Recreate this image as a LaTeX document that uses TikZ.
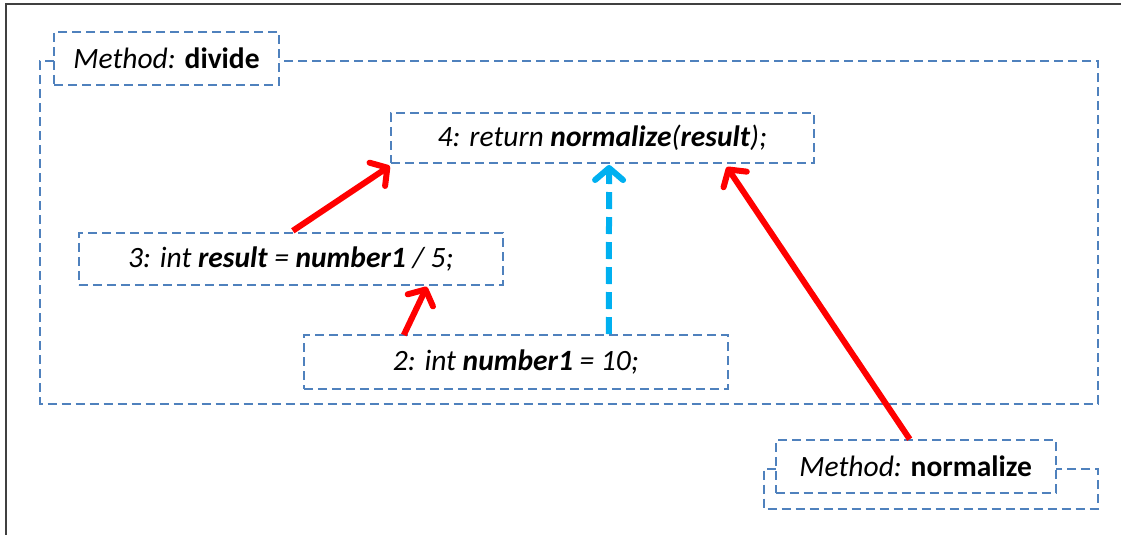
\documentclass[tikz,border=0pt]{standalone}
\usepackage{fontspec}
\setmainfont{Carlito}
\usetikzlibrary{arrows.meta}
\definecolor{boxblue}{RGB}{79,129,189}
\definecolor{flowblue}{RGB}{0,176,240}
\tikzset{
  dbox/.style={draw=boxblue, line width=2pt, dash pattern=on 9pt off 5pt, inner sep=0pt, font=\fontsize{29.5}{35}\selectfont},
  frameline/.style={draw=boxblue, line width=2pt, dash pattern=on 9pt off 5pt},
  redarrow/.style={draw=red, line width=6pt, -{Straight Barb[length=12pt,width=28pt,round]}},
  bluearrow/.style={draw=flowblue, line width=6pt, dash pattern=on 17pt off 8pt, -{Straight Barb[length=12pt,width=28pt,round]}}
}
\begin{document}
\begin{tikzpicture}[x=1pt,y=-1pt]
\useasboundingbox (0,0) rectangle (1121,535);
\draw[black!75, line width=2pt] (5.5,535) -- (5.5,4.5) -- (1121,4.5);
% outer frame of method divide
\draw[frameline] (54,61) -- (40,61) -- (40,403.5) -- (1098,403.5) -- (1098,61) -- (279,61);
% outer frame of method normalize
\draw[frameline] (776,469) -- (763.5,469) -- (763.5,508.5) -- (1098,508.5) -- (1098,469) -- (1056,469);
\node[dbox, minimum width=225pt, minimum height=53pt, fill=white] (ldiv) at (166.5,58.5) {\textit{Method:} \textbf{divide}};
\node[dbox, minimum width=280pt, minimum height=53pt, fill=white] (lnorm) at (915.7,466.7) {\textit{Method:} \textbf{normalize}};
\node[dbox, minimum width=423pt, minimum height=50pt] (n4) at (602.3,138) {\textit{4: return \textbf{normalize}(\textbf{result});}};
\node[dbox, minimum width=424pt, minimum height=52pt] (n3) at (290.8,258.8) {\textit{3: int \textbf{result} = \textbf{number1} / 5;}};
\node[dbox, minimum width=424pt, minimum height=54pt] (n2) at (515.8,362) {\textit{2: int \textbf{number1} = 10;}};
% connectors
\draw[redarrow] ([xshift=2pt,yshift=1pt]n3.north) -- ([yshift=-2pt]n4.south west);
\draw[redarrow] ([xshift=101pt,yshift=-1pt]n2.north west) -- ([xshift=349pt,yshift=-1pt]n3.south west);
\draw[bluearrow] ([xshift=306pt]n2.north west) -- ([xshift=219.3pt,yshift=-1pt]n4.south west);
\draw[redarrow] ([xshift=-6pt]lnorm.north) -- ([xshift=337pt,yshift=-3pt]n4.south west);
\end{tikzpicture}
\end{document}
